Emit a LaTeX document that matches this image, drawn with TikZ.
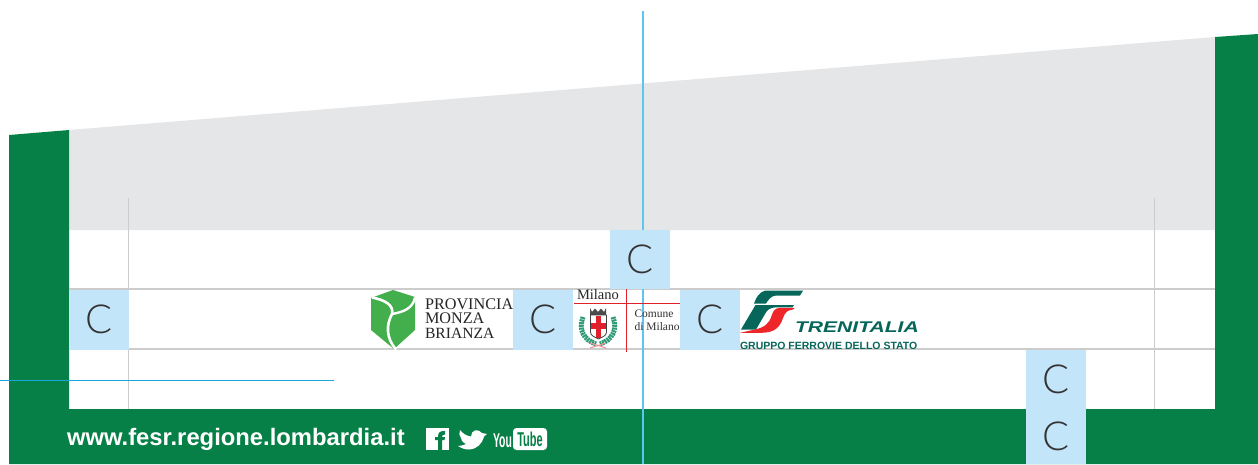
\documentclass[tikz,border=0pt]{standalone}
\usepackage{fontspec}
\setmainfont{Liberation Sans}
\newfontfamily\seriffont{Liberation Serif}
\newfontfamily\lightfont{Lato Light}
\definecolor{fgreen}{HTML}{078047}
\definecolor{fgray}{HTML}{E5E6E8}
\definecolor{cbox}{HTML}{C3E5F9}
\definecolor{guide}{HTML}{CCCCCC}
\definecolor{cyanline}{HTML}{5FC4EE}
\definecolor{blueline}{HTML}{1AA5DC}
\definecolor{shield}{HTML}{43AE4C}
\definecolor{mred}{HTML}{E0202A}
\definecolor{wreath}{HTML}{2F9A78}
\definecolor{fsteal}{HTML}{07665A}
\definecolor{fsred}{HTML}{EE2529}
\tikzset{
  x=1pt,y=-1pt,
  cbx/.style={fill=cbox,draw=none,minimum width=60pt,minimum height=60pt,inner sep=0pt,anchor=north west,text=black!80,font=\lightfont\fontsize{40}{40}\selectfont},
  guideline/.style={draw=guide,line width=1.3pt},
  plain/.style={inner sep=0pt,outer sep=0pt},
}
\begin{document}
\begin{tikzpicture}
\useasboundingbox (0,0) rectangle (1258,464);
\fill[white] (0,0) rectangle (1258,464);
% grey and green band
\fill[fgray] (69,130) -- (1215,37) -- (1215,230) -- (69,230) -- cycle;
\fill[fgreen] (9,135) -- (69,130) -- (69,409) -- (1215,409) -- (1215,37) -- (1258,34) -- (1258,464) -- (9,464) -- cycle;
% guides
\draw[guideline] (69,289) -- (1215,289);
\draw[guideline] (69,349) -- (1215,349);
\draw[guideline] (128.5,198) -- (128.5,409);
\draw[guideline] (1154.5,198) -- (1154.5,409);
\draw[blueline,line width=0.8pt] (0,380) -- (334,380);
\draw[cyanline,line width=1.1pt] (643,11) -- (643,464);
% C boxes
\node[cbx,minimum height=59pt] (c1) at (610,230) {C};
\node[cbx] (c2) at (69,289.5) {C};
\node[cbx] (c3) at (513,289.5) {C};
\node[cbx,minimum width=60pt] (c4) at (680,289.5) {C};
\node[cbx] (c5) at (1026,349.5) {C};
\node[cbx,minimum height=55pt] (c6) at (1026,409) {C};
% Provincia logo
\fill[shield] (371,298) -- (393,290) -- (415,297) -- (415,330) -- (394,349) -- (371,330) -- cycle;
\draw[white,line width=2.6pt] (372,297.5) .. controls (385,300) and (394,305) .. (392,314) .. controls (386,325) and (386,338) .. (396,349.5);
\draw[white,line width=2.4pt] (415,297.5) .. controls (413,308) and (404,312) .. (392,314);
\node[plain,anchor=base west,font=\seriffont\fontsize{16.2}{16.2}\selectfont,text=black!85] (p1) at (425,309.5) {PROVINCIA};
\node[plain,anchor=base west,font=\seriffont\fontsize{16.2}{16.2}\selectfont,text=black!85] (p2) at (425,323.5) {MONZA};
\node[plain,anchor=base west,font=\seriffont\fontsize{15.6}{15.6}\selectfont,text=black!85] (p3) at (425,338) {BRIANZA};
% Milano logo
\draw[mred,line width=0.8pt] (574,303.5) -- (680,303.5);
\draw[mred,line width=0.8pt] (626.5,289) -- (626.5,351.5);
\node[plain,anchor=base west,font=\seriffont\fontsize{14.5}{14.5}\selectfont,text=black!85] (m1) at (577,299) {Milano};
\node[plain,anchor=base west,font=\seriffont\fontsize{11.5}{11.5}\selectfont,text=black!80] (m2) at (634.5,317) {Comune};
\node[plain,anchor=base west,font=\seriffont\fontsize{11.5}{11.5}\selectfont,text=black!80] (m3) at (634.5,330) {di Milano};
\draw[wreath,line width=5pt,dash pattern=on 2pt off 0.7pt] (583,317) .. controls (578,330) and (584,340) .. (596,344);
\draw[wreath,line width=5pt,dash pattern=on 2pt off 0.7pt] (613,317) .. controls (618,330) and (612,340) .. (600,344);
\draw[mred!50,line width=1pt] (590,343) -- (606,348);
\draw[mred!50,line width=1pt] (606,343) -- (590,348);
\fill[black!70] (590,308) -- (592,312) -- (595,308.5) -- (598,312) -- (601,308.5) -- (604,312) -- (606,308) -- (606,315) -- (590,315) -- cycle;
\fill[white] (590.5,315) -- (606.5,315) -- (606.5,332) .. controls (606.5,336) and (602,337) .. (598.5,339) .. controls (595,337) and (590.5,336) .. (590.5,332) -- cycle;
\fill[mred] (596,315.5) rectangle (601,338);
\fill[mred] (591,322.5) rectangle (606,328.5);
\draw[black!75,line width=0.8pt] (590.5,315) -- (606.5,315) -- (606.5,332) .. controls (606.5,336) and (602,337) .. (598.5,339) .. controls (595,337) and (590.5,336) .. (590.5,332) -- cycle;
% Trenitalia logo
\fill[fsteal] (765,290.7) -- (803,290.7) -- (800,295.5) -- (776,295.5) .. controls (771,296) and (769,299) .. (766,303.5) -- (754,303.5) .. controls (756,298) and (759,292) .. (765,290.7) -- cycle;
\fill[fsteal] (755.5,305) -- (794,305) -- (792.5,307.3) -- (776,307.3) .. controls (770,307.5) and (767,310) .. (765,314) -- (756,329.5) -- (741,329.5) -- cycle;
\fill[fsred] (795,307.8) -- (780,307.8) .. controls (775,308) and (773,311) .. (771.5,316) .. controls (769,324) and (764,327.5) .. (755,329.5) -- (740,332.8) -- (762,332.8) .. controls (775,332.5) and (780,327) .. (783,318) .. controls (785,312) and (788,310) .. (793,309.5) -- cycle;
\node[plain,anchor=base west,xscale=1.36,font=\bfseries\itshape\fontsize{15.5}{15.5}\selectfont,text=fsteal] (t1) at (795,332.5) {TRENITALIA};
\node[plain,anchor=base west,font=\bfseries\fontsize{10.5}{10.5}\selectfont,text=fsteal] (t2) at (740,349) {GRUPPO FERROVIE DELLO STATO};
% footer
\node[plain,anchor=base west,font=\bfseries\fontsize{23.8}{23.8}\selectfont,text=white] (url) at (67,445.5) {www.fesr.regione.lombardia.it};
% facebook
\fill[white] (426,428) rectangle (449,450);
\fill[fgreen] (438,450) -- (438,440) -- (435,440) -- (435,437) -- (438,437) .. controls (438,432) and (440,431) .. (445,431) -- (445,434.5) .. controls (443,434.5) and (442,435) .. (442,437) -- (445,437) -- (444.5,440) -- (442,440) -- (442,450) -- cycle;
% twitter
\fill[white] (460,430) .. controls (463,434) and (467,436) .. (471,436.5) .. controls (471,430) and (478,428) .. (482,433) -- (487,434) -- (484,436.5) .. controls (482,444) and (477,449) .. (469,449.5) .. controls (465,449.5) and (462,448.5) .. (458,446) .. controls (461,446) and (464,445) .. (466,444) .. controls (462,442) and (461,440) .. (461,438) .. controls (459,436) and (459,433) .. (460,430) -- cycle;
% youtube
\node[plain,anchor=base west,font=\bfseries\fontsize{20}{20}\selectfont,text=white,xscale=0.52] (yt1) at (493,447) {You};
\fill[white,rounded corners=3.5pt] (513,428) rectangle (547,450);
\node[plain,anchor=base,font=\bfseries\fontsize{20}{20}\selectfont,text=fgreen,xscale=0.55] (yt2) at (530,446.5) {Tube};
\end{tikzpicture}
\end{document}
